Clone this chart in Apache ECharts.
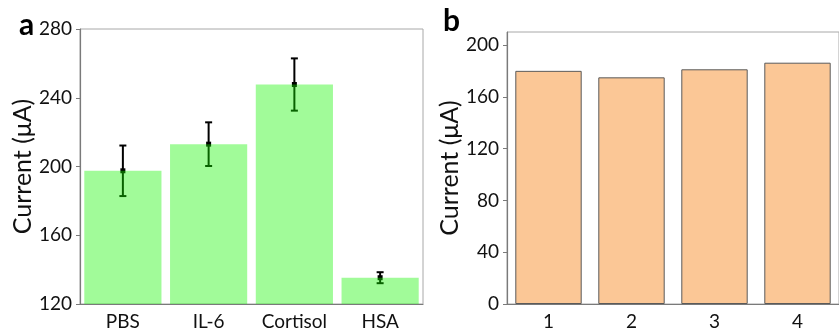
<!DOCTYPE html>
<html>
<head>
<meta charset="utf-8">
<script src="https://cdn.jsdelivr.net/npm/echarts@6/dist/echarts.min.js"></script>
<style>
  html, body { margin: 0; padding: 0; background: #fff; }
  #chart { width: 839px; height: 331px; }
</style>
</head>
<body>
<div id="chart"></div>
<script>
// panel a: selectivity
var catsA = ['PBS', 'IL-6', 'Cortisol', 'HSA'];
var meanA = [197.5, 213, 247.7, 135.3];
var errA = [14.7, 12.7, 15.2, 3.2];
var ticksA = [120, 160, 200, 240, 280];

// panel b: repeatability
var catsB = ['1', '2', '3', '4'];
var valB = [180, 175, 181.2, 186.3];
var ticksB = [0, 40, 80, 120, 160, 200];

var font = 'Lato, "Noto Sans", sans-serif';
var axisGray = '#7a7a7a';
var labelStyle = { color: '#111', fontSize: 19, fontFamily: font };

var errData = meanA.map(function (m, i) {
  return [i, m - errA[i], m + errA[i], m];
});

function renderErr(params, api) {
  var x = api.value(0);
  var lo = api.coord([x, api.value(1)]);
  var hi = api.coord([x, api.value(2)]);
  var mid = api.coord([x, api.value(3)]);
  var cap = 3.5;
  var style = { stroke: '#000', lineWidth: 2 };
  return {
    type: 'group',
    children: [
      { type: 'line', shape: { x1: lo[0], y1: lo[1], x2: hi[0], y2: hi[1] }, style: style },
      { type: 'line', shape: { x1: lo[0] - cap, y1: lo[1], x2: lo[0] + cap, y2: lo[1] }, style: style },
      { type: 'line', shape: { x1: hi[0] - cap, y1: hi[1], x2: hi[0] + cap, y2: hi[1] }, style: style },
      { type: 'rect', shape: { x: mid[0] - 2.5, y: mid[1] - 2.5, width: 5, height: 5 }, style: { fill: '#000' } }
    ]
  };
}

var chart = echarts.init(document.getElementById('chart'));
chart.setOption({
  animation: false,
  textStyle: { fontFamily: font },
  grid: [
    { left: 80, top: 29, width: 343, height: 276, show: true, borderColor: '#a8a8a8', borderWidth: 1 },
    { left: 507, top: 32, right: -11, height: 275, show: true, borderColor: '#a8a8a8', borderWidth: 1 }
  ],
  xAxis: [
    {
      gridIndex: 0, type: 'category', data: catsA,
      axisLine: { lineStyle: { color: axisGray, width: 1.2 } },
      axisTick: { alignWithLabel: true, length: 4, lineStyle: { color: axisGray } },
      axisLabel: Object.assign({ margin: 8 }, labelStyle)
    },
    {
      gridIndex: 1, type: 'category', data: catsB,
      axisLine: { lineStyle: { color: axisGray, width: 1.2 } },
      axisTick: { alignWithLabel: true, length: 4, lineStyle: { color: axisGray } },
      axisLabel: Object.assign({ margin: 8 }, labelStyle)
    }
  ],
  yAxis: [
    {
      gridIndex: 0, type: 'value', min: 120, max: 280, interval: 40,
      name: 'Current (μA)', nameLocation: 'middle', nameGap: 44,
      nameTextStyle: { color: '#111', fontSize: 25, fontFamily: font },
      axisLine: { show: true, lineStyle: { color: axisGray, width: 1.2 } },
      axisTick: { show: true, length: 4, lineStyle: { color: axisGray }, customValues: ticksA },
      axisLabel: Object.assign({ margin: 8, customValues: ticksA }, labelStyle),
      splitLine: { show: false }
    },
    {
      gridIndex: 1, type: 'value', min: 0, max: 210, interval: 40,
      name: 'Current (μA)', nameLocation: 'middle', nameGap: 44,
      nameTextStyle: { color: '#111', fontSize: 25, fontFamily: font },
      axisLine: { show: true, lineStyle: { color: axisGray, width: 1.2 } },
      axisTick: { show: true, length: 4, lineStyle: { color: axisGray }, customValues: ticksB },
      axisLabel: Object.assign({ margin: 8, customValues: ticksB }, labelStyle),
      splitLine: { show: false }
    }
  ],
  series: [
    {
      type: 'custom', xAxisIndex: 0, yAxisIndex: 0, z: 1,
      renderItem: renderErr, data: errData
    },
    {
      type: 'bar', xAxisIndex: 0, yAxisIndex: 0, z: 2,
      data: meanA, barCategoryGap: '10%',
      itemStyle: { color: 'rgba(20,245,0,0.4)' }
    },
    {
      type: 'bar', xAxisIndex: 1, yAxisIndex: 1,
      data: valB, barCategoryGap: '20%',
      itemStyle: { color: '#fbc796', borderColor: '#5a5a5a', borderWidth: 1 }
    }
  ],
  graphic: [
    { type: 'text', left: 19, top: 10, style: { text: 'a', font: 'bold 30px ' + font, fill: '#000' } },
    { type: 'text', left: 443, top: 6, style: { text: 'b', font: 'bold 30px ' + font, fill: '#000' } }
  ]
});
</script>
</body>
</html>
